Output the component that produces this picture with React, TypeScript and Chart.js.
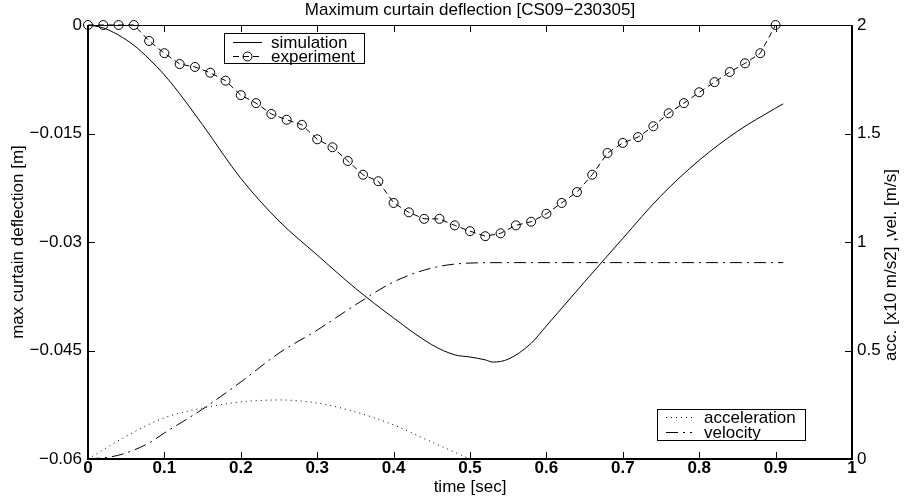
import React, { useEffect, useRef } from "react";
import { Chart, registerables } from "chart.js";

Chart.register(...registerables);

const TITLE = "Maximum curtain deflection [CS09\u2212230305]";
const X_LABEL = "time [sec]";
const Y_LEFT_LABEL = "max curtain deflection [m]";
const Y_RIGHT_LABEL = "acc. [x10 m/s2] ,vel. [m/s]";

const xTicks = [0, 0.1, 0.2, 0.3, 0.4, 0.5, 0.6, 0.7, 0.8, 0.9, 1];
const leftTicks = [-0.06, -0.045, -0.03, -0.015, 0];
const rightTicks = [0, 0.5, 1, 1.5, 2];

const simTime = [0, 0.02, 0.04, 0.06, 0.08, 0.1, 0.12, 0.15, 0.2, 0.25, 0.3, 0.35, 0.4, 0.45, 0.48, 0.5, 0.52, 0.53, 0.55, 0.58, 0.6, 0.65, 0.7, 0.75, 0.8, 0.85, 0.9, 0.91];
const simDeflection = [0, -0.0004, -0.0014, -0.0028, -0.0047, -0.0069, -0.0095, -0.0138, -0.0212, -0.0271, -0.0318, -0.0364, -0.0405, -0.0442, -0.0456, -0.0459, -0.0463, -0.0466, -0.0462, -0.0440, -0.0416, -0.0355, -0.0295, -0.0236, -0.0187, -0.0147, -0.0115, -0.0109];

const expTime = [0, 0.02, 0.04, 0.06, 0.08, 0.1, 0.12, 0.14, 0.16, 0.18, 0.2, 0.22, 0.24, 0.26, 0.28, 0.3, 0.32, 0.34, 0.36, 0.38, 0.4, 0.42, 0.44, 0.46, 0.48, 0.5, 0.52, 0.54, 0.56, 0.58, 0.6, 0.62, 0.64, 0.66, 0.68, 0.7, 0.72, 0.74, 0.76, 0.78, 0.8, 0.82, 0.84, 0.86, 0.88, 0.9];
const expDeflection = [0, 0, 0, 0, -0.0022, -0.0039, -0.0054, -0.0058, -0.0066, -0.0077, -0.0097, -0.0108, -0.0123, -0.0131, -0.0138, -0.0158, -0.0169, -0.0188, -0.0207, -0.0216, -0.0246, -0.0259, -0.0268, -0.0268, -0.0277, -0.0285, -0.0292, -0.0288, -0.0277, -0.0272, -0.0261, -0.0246, -0.0231, -0.0207, -0.0177, -0.0163, -0.0155, -0.0140, -0.0122, -0.0108, -0.0093, -0.0079, -0.0065, -0.0053, -0.0039, 0];

const accTime = [0, 0.05, 0.1, 0.15, 0.2, 0.25, 0.3, 0.35, 0.4, 0.45, 0.5];
const accValue = [0, 0.105, 0.19, 0.235, 0.263, 0.272, 0.258, 0.217, 0.157, 0.078, 0];

const velTime = [0, 0.03, 0.05, 0.08, 0.1, 0.15, 0.2, 0.25, 0.3, 0.35, 0.4, 0.45, 0.5, 0.55, 0.91];
const velValue = [0, 0.01, 0.028, 0.074, 0.12, 0.23, 0.355, 0.488, 0.594, 0.71, 0.816, 0.88, 0.903, 0.905, 0.905];

const FONT = '"Liberation Sans", Arial, Helvetica, sans-serif';

const pts = (xs: number[], ys: number[]) => xs.map((x, i) => ({ x, y: ys[i] }));

const fmtLeft = (v: number) => {
  if (Math.abs(v) < 1e-9) return "0";
  const s = String(Number(Math.abs(v).toFixed(4)));
  return (v < 0 ? "\u2212" : "") + s;
};
const fmtPlain = (v: number) => String(Number(v.toFixed(4)));

const framePlugin = {
  id: "frame",
  afterDatasetsDraw(chart: any) {
    const { ctx, chartArea, scales } = chart;
    const { left, right, top, bottom } = chartArea;
    const tl = 7;
    ctx.save();
    ctx.strokeStyle = "#000";
    ctx.lineWidth = 1;
    const line = (x1: number, y1: number, x2: number, y2: number) => {
      ctx.beginPath();
      ctx.moveTo(x1, y1);
      ctx.lineTo(x2, y2);
      ctx.stroke();
    };
    scales.x.ticks.forEach((t: any) => {
      const px = Math.round(scales.x.getPixelForValue(t.value)) + 0.5;
      line(px, bottom, px, bottom - tl);
      line(px, top, px, top + tl);
    });
    scales.y.ticks.forEach((t: any) => {
      const py = Math.round(scales.y.getPixelForValue(t.value)) + 0.5;
      line(left, py, left + tl, py);
    });
    scales.y2.ticks.forEach((t: any) => {
      const py = Math.round(scales.y2.getPixelForValue(t.value)) + 0.5;
      line(right, py, right - tl, py);
    });
    line(left, top + 0.5, right, top + 0.5);
    ctx.lineWidth = 2;
    line(left, top, left, bottom);
    line(right, top, right, bottom);
    line(left - 1, bottom, right + 1, bottom);

    // legends
    const ds = chart.data.datasets;
    const drawLegend = (box: number[], items: { idx: number; y: number }[], x1: number, x2: number, tx: number) => {
      ctx.lineWidth = 1;
      ctx.fillStyle = "#fff";
      ctx.fillRect(box[0], box[1], box[2] - box[0], box[3] - box[1]);
      ctx.strokeStyle = "#000";
      ctx.strokeRect(box[0] + 0.5, box[1] + 0.5, box[2] - box[0], box[3] - box[1]);
      items.forEach(({ idx, y }) => {
        const d = ds[idx];
        ctx.save();
        ctx.setLineDash(d.borderDash || []);
        ctx.lineWidth = d.borderWidth || 1;
        ctx.strokeStyle = "#000";
        line(x1, y + 0.5, x2, y + 0.5);
        ctx.restore();
        if (d.pointRadius && d.pointRadius > 0) {
          ctx.beginPath();
          ctx.lineWidth = 1;
          ctx.arc((x1 + x2) / 2, y + 0.5, d.pointRadius, 0, Math.PI * 2);
          ctx.stroke();
        }
        ctx.fillStyle = "#000";
        ctx.font = `17px ${FONT}`;
        ctx.textAlign = "left";
        ctx.textBaseline = "middle";
        ctx.fillText(d.label, tx, y + 1);
      });
    };
    drawLegend([224, 33, 364, 63], [{ idx: 0, y: 42 }, { idx: 1, y: 56 }], 233, 262, 271);
    drawLegend([657, 409, 805, 440], [{ idx: 2, y: 417 }, { idx: 3, y: 432 }], 666, 692, 704);
    ctx.restore();
  },
  afterDraw(chart: any) {
    const { ctx, chartArea } = chart;
    const { left, right, top, bottom } = chartArea;
    const cx = (left + right) / 2;
    ctx.save();
    ctx.fillStyle = "#000";
    ctx.font = `17px ${FONT}`;
    ctx.textAlign = "center";
    ctx.textBaseline = "middle";
    ctx.fillText(TITLE, cx, 10);
    ctx.fillText(X_LABEL, cx, 487);
    ctx.save();
    ctx.translate(18, (top + bottom) / 2);
    ctx.rotate(-Math.PI / 2);
    ctx.fillText(Y_LEFT_LABEL, 0, 0);
    ctx.restore();
    ctx.save();
    ctx.translate(891, 265);
    ctx.rotate(-Math.PI / 2);
    ctx.fillText(Y_RIGHT_LABEL, 0, 0);
    ctx.restore();
    ctx.restore();
  },
};

export default function App() {
  const ref = useRef<HTMLCanvasElement | null>(null);
  useEffect(() => {
    if (!ref.current) return;
    const tickFont = { family: FONT, size: 17, lineHeight: 1.2 };
    const chart = new Chart(ref.current, {
      type: "line",
      data: {
        datasets: [
          {
            label: "simulation",
            data: pts(simTime, simDeflection),
            yAxisID: "y",
            borderColor: "#000",
            borderWidth: 1,
            pointRadius: 0,
            cubicInterpolationMode: "monotone",
            fill: false,
          },
          {
            label: "experiment",
            data: pts(expTime, expDeflection),
            yAxisID: "y",
            borderColor: "#000",
            borderWidth: 1,
            borderDash: [6, 4],
            pointRadius: 4.5,
            pointBorderWidth: 1,
            pointBorderColor: "#000",
            pointBackgroundColor: "rgba(0,0,0,0)",
            tension: 0,
            clip: false,
            fill: false,
          },
          {
            label: "acceleration",
            data: pts(accTime, accValue),
            yAxisID: "y2",
            borderColor: "#000",
            borderWidth: 1,
            borderDash: [1, 4],
            pointRadius: 0,
            cubicInterpolationMode: "monotone",
            fill: false,
          },
          {
            label: "velocity",
            data: pts(velTime, velValue),
            yAxisID: "y2",
            borderColor: "#000",
            borderWidth: 1,
            borderDash: [12, 5, 2, 5],
            pointRadius: 0,
            cubicInterpolationMode: "monotone",
            fill: false,
          },
        ] as any,
      },
      options: {
        responsive: false,
        animation: false,
        devicePixelRatio: 1,
        layout: { padding: { top: 25, left: 0, right: 0, bottom: 0 } },
        plugins: {
          legend: { display: false },
          title: { display: false },
          tooltip: { enabled: false },
        },
        scales: {
          x: {
            type: "linear",
            position: "bottom",
            min: 0,
            max: 1,
            afterBuildTicks: (s: any) => {
              s.ticks = xTicks.map((v) => ({ value: v }));
            },
            afterFit: (s: any) => {
              s.height = 38;
            },
            grid: { display: false, drawTicks: false },
            border: { display: false },
            ticks: {
              font: { ...tickFont, weight: "bold" },
              color: "#000",
              padding: -1,
              maxRotation: 0,
              autoSkip: false,
              callback: (v: any) => fmtPlain(Number(v)),
            },
          },
          y: {
            type: "linear",
            position: "left",
            min: -0.06,
            max: 0,
            afterBuildTicks: (s: any) => {
              s.ticks = leftTicks.map((v) => ({ value: v }));
            },
            afterFit: (s: any) => {
              s.width = 88;
            },
            grid: { display: false, drawTicks: false },
            border: { display: false },
            ticks: {
              font: tickFont,
              color: "#000",
              padding: 6,
              autoSkip: false,
              callback: (v: any) => fmtLeft(Number(v)),
            },
          },
          y2: {
            type: "linear",
            position: "right",
            min: 0,
            max: 2,
            afterBuildTicks: (s: any) => {
              s.ticks = rightTicks.map((v) => ({ value: v }));
            },
            afterFit: (s: any) => {
              s.width = 52;
            },
            grid: { display: false, drawTicks: false },
            border: { display: false },
            ticks: {
              font: tickFont,
              color: "#000",
              padding: 5,
              autoSkip: false,
              callback: (v: any) => fmtPlain(Number(v)),
            },
          },
        },
      } as any,
      plugins: [framePlugin],
    });
    return () => chart.destroy();
  }, []);
  return (
    <div style={{ position: "fixed", left: 0, top: 0, width: 904, height: 497, background: "#fff" }}>
      <canvas ref={ref} width={904} height={497} style={{ display: "block", width: 904, height: 497 }} />
    </div>
  );
}
